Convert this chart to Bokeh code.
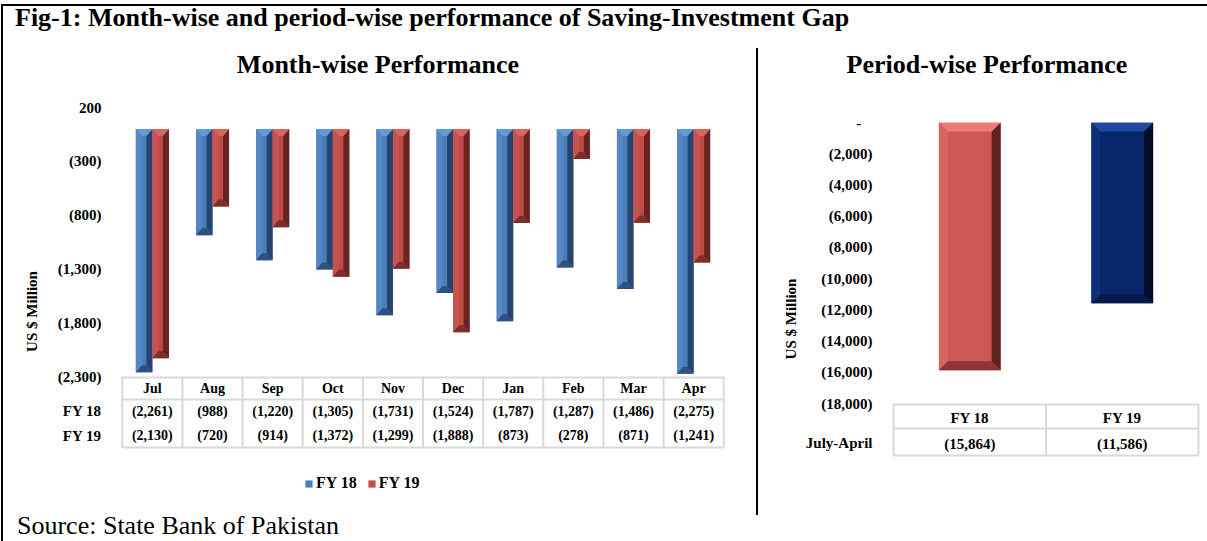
import numpy as np
from bokeh.plotting import figure
from bokeh.models import (Range1d, FactorRange, FixedTicker, Div, Legend, LegendItem,
                          ColumnDataSource)
from bokeh.layouts import row, column
from bokeh.transform import dodge
from bokeh.core.properties import value
from bokeh.embed import file_html
from bokeh.resources import INLINE

# ---------------- data ----------------
months = ["Jul", "Aug", "Sep", "Oct", "Nov", "Dec", "Jan", "Feb", "Mar", "Apr"]
fy18 = [-2261, -988, -1220, -1305, -1731, -1524, -1787, -1287, -1486, -2275]
fy19 = [-2130, -720, -914, -1372, -1299, -1888, -873, -278, -871, -1241]
series = ["FY 18", "FY 19"]
left_ticks = [200, -300, -800, -1300, -1800, -2300]

periods = ["FY 18", "FY 19"]
period_row = "July-April"
period_values = [-15864, -11586]
right_ticks = [0, -2000, -4000, -6000, -8000, -10000, -12000, -14000, -16000, -18000]

main_title = "Fig-1: Month-wise and period-wise performance of Saving-Investment Gap"
left_title = "Month-wise Performance"
right_title = "Period-wise Performance"
y_title = "US $ Million"
source_text = "Source: State Bank of Pakistan"

# ---------------- styles ----------------
FONT = "Liberation Serif"
GRID = "#D9D9D9"
BLUE = dict(body="#4A7EBB", top="#6299DA", right="#274470", bottom="#2E5182", left="#5587C4")
RED = dict(body="#BE4B48", top="#DA6460", right="#692322", bottom="#7C2E2C", left="#C65350")
P18 = dict(body="#CD5754", top="#EC7B77", right="#5E2220", bottom="#8C3533", left="#D66562")
P19 = dict(body="#08266A", top="#2148A0", right="#020C26", bottom="#061A4A", left="#0E2F7A")


def acct(v):
    if v == 0:
        return "-\u00a0\u00a0\u00a0"
    return f"({abs(v):,})" if v < 0 else f"{v:,}"


def bevel(p, cx, vals, half_w, bx, by, pal):
    parts = {k: dict(xs=[], ys=[]) for k in ("right", "left", "bottom", "top")}
    for c, v in zip(cx, vals):
        x0, x1 = c - half_w, c + half_w
        yt, yb = max(0, v), min(0, v)
        b = min(by, (yt - yb) / 2.0)
        parts["top"]["xs"].append([x0, x1, x1 - bx, x0 + bx])
        parts["top"]["ys"].append([yt, yt, yt - b, yt - b])
        parts["bottom"]["xs"].append([x0, x1, x1 - bx, x0 + bx])
        parts["bottom"]["ys"].append([yb, yb, yb + b, yb + b])
        parts["left"]["xs"].append([x0, x0 + bx, x0 + bx, x0])
        parts["left"]["ys"].append([yt, yt - b, yb + b, yb])
        parts["right"]["xs"].append([x1, x1 - bx, x1 - bx, x1])
        parts["right"]["ys"].append([yt, yt - b, yb + b, yb])
    for k in ("left", "right", "bottom", "top"):
        p.patches(parts[k]["xs"], parts[k]["ys"], fill_color=pal[k], line_color=None)


def style_yaxis(p, ticks, overrides, standoff, label_standoff):
    ax = p.yaxis[0]
    ax.ticker = FixedTicker(ticks=ticks)
    ax.major_label_overrides = overrides
    ax.axis_line_color = None
    ax.major_tick_line_color = None
    ax.minor_tick_line_color = None
    ax.major_label_text_font = FONT
    ax.major_label_text_font_style = "bold"
    ax.major_label_text_font_size = "15px"
    ax.major_label_text_color = "black"
    ax.major_label_standoff = standoff
    ax.axis_label = y_title
    ax.axis_label_text_font = FONT
    ax.axis_label_text_font_style = "bold"
    ax.axis_label_text_font_size = "15px"
    ax.axis_label_text_color = "black"
    ax.axis_label_standoff = label_standoff


def bare(p):
    p.xgrid.visible = False
    p.ygrid.visible = False
    p.outline_line_color = None


txt = dict(text_font=value(FONT), text_font_style="bold", text_color="black",
           text_align="center", text_baseline="middle", y_range_name="px")

# page geometry (page pixels)
X_MAIN = 3                      # left edge of the content right of the black border
PANEL_TOP, SUB_BOT, PANEL_BOT = 40, 88, 515
DIVIDER_X = 756
LEFT_W = DIVIDER_X - X_MAIN
RX_OFF = DIVIDER_X + 2
RIGHT_W = 1207 - RX_OFF

# ---------------- left panel ----------------
L_X0, L_X1 = 121.7, 722.7          # outer edges of the month cells
L_TOP, L_DATA_BOT = 107, 376        # pixel rows of the 200 and (2,300) ticks
cell_l = (L_X1 - L_X0) / len(months)
pad_l = 0.03
k_left = (L_DATA_BOT - L_TOP) / (left_ticks[0] - left_ticks[-1])
ymin_left = left_ticks[0] - (PANEL_BOT - L_TOP) / k_left
fw_l = int(round(cell_l * (len(months) + 2 * pad_l)))
frame_l0 = L_X0 - pad_l * cell_l
mbl_l = int(round(frame_l0 - X_MAIN))
row18_l, row19_l = -2625, -2850      # table rows (value units)

p1 = figure(x_range=FactorRange(factors=months, range_padding=pad_l,
                                range_padding_units="absolute"),
            y_range=Range1d(ymin_left, left_ticks[0]),
            frame_width=fw_l, frame_height=PANEL_BOT - L_TOP,
            min_border_left=mbl_l, min_border_right=LEFT_W - mbl_l - fw_l,
            min_border_top=L_TOP - SUB_BOT, min_border_bottom=0, x_axis_location=None,
            output_backend="svg", toolbar_location=None)
p1.extra_y_ranges = {"px": Range1d(PANEL_BOT, L_TOP)}
bare(p1)
ov_l = {t: acct(t) for t in left_ticks}
ov_l.update({row18_l: series[0], row19_l: series[1]})
style_yaxis(p1, left_ticks + [row18_l, row19_l], ov_l, 13, 15)

src = ColumnDataSource(dict(month=months, fy18=fy18, fy19=fy19,
                            l18=[acct(v) for v in fy18], l19=[acct(v) for v in fy19]))
bw = 0.275
b18 = p1.vbar(x=dodge("month", -bw / 2, range=p1.x_range), top=0, bottom="fy18", width=bw,
              source=src, fill_color=BLUE["body"], line_color=None)
b19 = p1.vbar(x=dodge("month", bw / 2, range=p1.x_range), top=0, bottom="fy19", width=bw,
              source=src, fill_color=RED["body"], line_color=None)
idx = np.arange(len(months)) + 0.5
bevel(p1, idx - bw / 2, fy18, bw / 2, 6 / cell_l, 7 / k_left, BLUE)
bevel(p1, idx + bw / 2, fy19, bw / 2, 6 / cell_l, 7 / k_left, RED)

# data table under the bars
nb = len(months) + 1
p1.segment(x0=list(range(nb)), y0=[L_DATA_BOT] * nb, x1=list(range(nb)), y1=[447] * nb,
           line_color=GRID, line_width=2, y_range_name="px")
p1.segment(x0=[0, 0, 0], y0=[L_DATA_BOT + 1, 399, 447], x1=[len(months)] * 3,
           y1=[L_DATA_BOT + 1, 399, 447], line_color=GRID, line_width=2, y_range_name="px")
p1.text(x="month", y=388, text="month", source=src, text_font_size="14px", **txt)
p1.text(x="month", y=411, text="l18", source=src, text_font_size="14px", **txt)
p1.text(x="month", y=435, text="l19", source=src, text_font_size="14px", **txt)

leg = Legend(items=[LegendItem(label=series[0], renderers=[b18]),
                    LegendItem(label=series[1], renderers=[b19])],
             orientation="horizontal", location=(int(round(304 - frame_l0)), 23),
             margin=0, padding=0, spacing=10, label_standoff=3, glyph_width=9,
             glyph_height=9, label_height=16, border_line_color=None,
             background_fill_alpha=0, label_text_font=FONT, label_text_font_style="bold",
             label_text_font_size="16px", label_text_color="black")
p1.add_layout(leg)

# ---------------- right panel ----------------
R_X0, R_X1 = 893, 1198
R_TOP, R_DATA_BOT = 122, 403
cell_r = (R_X1 - R_X0) / len(periods)
pad_r = 0.02
k_right = (R_DATA_BOT - R_TOP) / (right_ticks[0] - right_ticks[-1])
ymin_right = right_ticks[0] - (PANEL_BOT - R_TOP) / k_right
fw_r = int(round(cell_r * (len(periods) + 2 * pad_r)))
frame_r0 = R_X0 - pad_r * cell_r
mbl_r = int(round(frame_r0 - RX_OFF))
row_r = -20550

p2 = figure(x_range=FactorRange(factors=periods, range_padding=pad_r,
                                range_padding_units="absolute"),
            y_range=Range1d(ymin_right, right_ticks[0]),
            frame_width=fw_r, frame_height=PANEL_BOT - R_TOP,
            min_border_left=mbl_r, min_border_right=max(0, RIGHT_W - mbl_r - fw_r),
            min_border_top=R_TOP - SUB_BOT, min_border_bottom=0, x_axis_location=None,
            output_backend="svg", toolbar_location=None)
p2.extra_y_ranges = {"px": Range1d(PANEL_BOT, R_TOP)}
bare(p2)
ov_r = {t: acct(t) for t in right_ticks}
ov_r[row_r] = period_row
style_yaxis(p2, right_ticks + [row_r], ov_r, 12, 4)

psrc = ColumnDataSource(dict(period=periods, val=period_values,
                             lab=[acct(v) for v in period_values],
                             color=[P18["body"], P19["body"]]))
pw = 0.405
p2.vbar(x="period", top=0, bottom="val", width=pw, source=psrc,
        fill_color="color", line_color=None)
pidx = np.arange(len(periods)) + 0.5
bevel(p2, pidx[:1], period_values[:1], pw / 2, 9 / cell_r, 9 / k_right, P18)
bevel(p2, pidx[1:], period_values[1:], pw / 2, 9 / cell_r, 9 / k_right, P19)

pb = len(periods) + 1
p2.segment(x0=list(range(pb)), y0=[R_DATA_BOT] * pb, x1=list(range(pb)), y1=[455] * pb,
           line_color=GRID, line_width=2, y_range_name="px")
p2.segment(x0=[0, 0, 0], y0=[R_DATA_BOT + 1, 428, 455], x1=[len(periods)] * 3,
           y1=[R_DATA_BOT + 1, 428, 455], line_color=GRID, line_width=2, y_range_name="px")
p2.text(x="period", y=417, text="period", source=psrc, text_font_size="15px", **txt)
p2.text(x="period", y=443, text="lab", source=psrc, text_font_size="15px", **txt)

# ---------------- frame, titles, layout ----------------
BLACK = {"background-color": "black"}


def html_div(w, h, html, styles=None):
    return Div(width=w, height=h, text=html, margin=0, styles=styles or {})


MAIN_W = 1207 - X_MAIN
top_gap = html_div(1207, 4, "")
left_gap = html_div(1, 537, "")
l_border = html_div(2, 537, "", BLACK)
t_border = html_div(MAIN_W, 2, "", BLACK)
title_div = html_div(MAIN_W, 34,
                     f'<div style="font-family:\'{FONT}\';font-weight:bold;font-size:26px;'
                     f'line-height:22px;padding-top:1px;margin-left:12px;white-space:nowrap;'
                     f'color:black">{main_title}</div>')
sub_l = html_div(LEFT_W, SUB_BOT - PANEL_TOP,
                 f'<div style="font-family:\'{FONT}\';font-weight:bold;font-size:26px;'
                 f'line-height:26px;padding-top:12px;margin-left:{378 - X_MAIN - 300}px;'
                 f'width:600px;text-align:center;white-space:nowrap;color:black">'
                 f'{left_title}</div>')
sub_r = html_div(RIGHT_W, SUB_BOT - PANEL_TOP,
                 f'<div style="font-family:\'{FONT}\';font-weight:bold;font-size:26px;'
                 f'line-height:26px;padding-top:12px;margin-left:{987 - RX_OFF - 200}px;'
                 f'width:400px;text-align:center;white-space:nowrap;color:black">'
                 f'{right_title}</div>')
source_div = html_div(MAIN_W, 541 - PANEL_BOT,
                      f'<div style="font-family:\'{FONT}\';font-size:26px;line-height:20px;'
                      f'padding-top:1px;margin-left:14px;white-space:nowrap;color:black">'
                      f'{source_text}</div>')
div_gap = html_div(2, 8, "")
div_line = html_div(2, PANEL_BOT - PANEL_TOP - 8, "", BLACK)

left_col = column(sub_l, p1, spacing=0)
right_col = column(sub_r, p2, spacing=0)
panels = row(left_col, column(div_gap, div_line, spacing=0), right_col, spacing=0)
main = column(t_border, title_div, panels, source_div, spacing=0)
root = column(top_gap, row(left_gap, l_border, main, spacing=0), spacing=0)

open("out.html", "w").write(file_html(root, INLINE))
